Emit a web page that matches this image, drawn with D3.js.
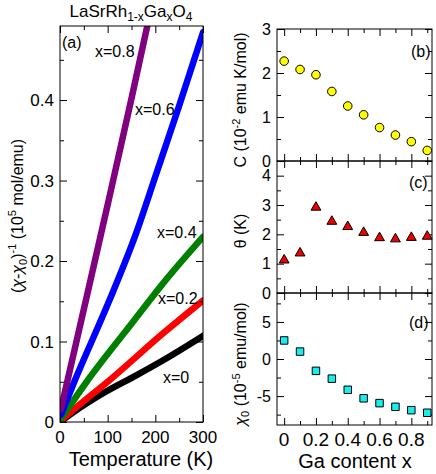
<!DOCTYPE html>
<html>
<head>
<meta charset="utf-8">
<script src="https://cdn.jsdelivr.net/npm/d3@7"></script>
<style>
    html, body { margin: 0; padding: 0; background: #fff; }
    svg { display: block; font-family: "Liberation Sans", Arial, sans-serif; }
</style>
</head>
<body>
<svg id="chart" width="436" height="474"></svg>
<script>
'use strict';

// panel (a): inverse susceptibility vs temperature, [T (K), value]
var curveX0 = [[2, 0.001], [30, 0.013], [94, 0.037], [160, 0.058], [220, 0.078], [300, 0.107]];
var curveX02 = [[2, 0.002], [40, 0.021], [100, 0.050], [220, 0.112], [300, 0.151]];
var curveX04 = [[2, 0.004], [56, 0.050], [150, 0.122], [220, 0.175], [300, 0.230]];
var curveX06 = [[2, 0.009], [30, 0.050], [105, 0.153], [160, 0.235], [200, 0.305], [250, 0.393], [300, 0.484]];
var curveX08 = [[2, 0.016], [50, 0.140], [100, 0.270], [150, 0.402], [186, 0.500]];
var curveNames = ['x=0', 'x=0.2', 'x=0.4', 'x=0.6', 'x=0.8'];
var curveColors = ['#000000', '#ff0000', '#008000', '#0000ff', '#800080'];

// panels (b)-(d): fit parameters vs Ga content
var gaContent = [0, 0.1, 0.2, 0.3, 0.4, 0.5, 0.6, 0.7, 0.8, 0.9];
var curieConst = [2.27, 2.08, 1.96, 1.58, 1.25, 1.05, 0.76, 0.59, 0.44, 0.24];
var weissTheta = [1.12, 1.36, 2.92, 2.44, 2.26, 2.06, 1.88, 1.84, 1.89, 1.93];
var chiZero = [2.5, 1.0, -1.6, -2.65, -4.15, -5.3, -5.95, -6.45, -6.9, -7.25];

var tempTicks = [0, 100, 200, 300];
var tempMinor = [50, 150, 250];
var invChiTicks = [0, 0.1, 0.2, 0.3, 0.4];
var invChiMinor = [0.05, 0.15, 0.25, 0.35, 0.45];
var gaTicks = [0, 0.2, 0.4, 0.6, 0.8];
var gaMinor = [0.1, 0.3, 0.5, 0.7, 0.9];

var svg = d3.select('#chart');

function drawFrame(x, y, opt) {
    var g = svg.append('g');
    var x0 = x.range()[0];
    var x1 = x.range()[1];
    var y0 = y.range()[0];
    var y1 = y.range()[1];

    function tickSet(axisFn, scale, values, size, pos) {
        var a = g.append('g')
            .attr('transform', pos)
            .call(axisFn(scale).tickValues(values).tickSize(size).tickFormat(''));
        a.select('.domain').remove();
        a.selectAll('line').attr('stroke', '#000').attr('stroke-width', 1);
    }

    tickSet(d3.axisBottom, x, opt.xMajor, -7, 'translate(0,' + y0 + ')');
    tickSet(d3.axisBottom, x, opt.xMinor, -4, 'translate(0,' + y0 + ')');
    tickSet(d3.axisTop, x, opt.xMajor, -7, 'translate(0,' + y1 + ')');
    tickSet(d3.axisTop, x, opt.xMinor, -4, 'translate(0,' + y1 + ')');
    tickSet(d3.axisLeft, y, opt.yMajor, -7, 'translate(' + x0 + ',0)');
    tickSet(d3.axisLeft, y, opt.yMinor, -4, 'translate(' + x0 + ',0)');
    tickSet(d3.axisRight, y, opt.yMajor, -7, 'translate(' + x1 + ',0)');
    tickSet(d3.axisRight, y, opt.yMinor, -4, 'translate(' + x1 + ',0)');

    g.append('rect')
        .attr('x', x0)
        .attr('y', y1)
        .attr('width', x1 - x0)
        .attr('height', y0 - y1)
        .attr('fill', 'none')
        .attr('stroke', '#000')
        .attr('stroke-width', 1);

    g.selectAll('.ylab')
        .data(opt.yMajor)
        .enter()
        .append('text')
        .attr('x', x0 - 6)
        .attr('y', function (d) {
            return y(d) + opt.yFont * 0.36;
        })
        .attr('text-anchor', 'end')
        .attr('font-size', opt.yFont)
        .text(opt.yFormat);

    if (opt.xLabels) {
        g.selectAll('.xlab')
            .data(opt.xMajor)
            .enter()
            .append('text')
            .attr('x', function (d) {
                return x(d);
            })
            .attr('y', y0 + opt.xLabelDy)
            .attr('text-anchor', 'middle')
            .attr('font-size', opt.xFont)
            .text(opt.xFormat);
    }

    g.append('text')
        .attr('x', opt.tagX)
        .attr('y', opt.tagY)
        .attr('font-size', 16)
        .text(opt.tag);

    return g;
}

// ---------- panel (a)
var xT = d3.scaleLinear().domain([0, 300]).range([60, 203]);
var yA = d3.scaleLinear().domain([0, 0.492]).range([422, 26]);

svg.append('clipPath')
    .attr('id', 'clipA')
    .append('rect')
    .attr('x', 60)
    .attr('y', 26)
    .attr('width', 143)
    .attr('height', 396);

var line = d3.line()
    .x(function (d) {
        return xT(d[0]);
    })
    .y(function (d) {
        return yA(d[1]);
    })
    .curve(d3.curveMonotoneX);

svg.append('g')
    .attr('clip-path', 'url(#clipA)')
    .selectAll('path')
    .data([curveX0, curveX02, curveX04, curveX06, curveX08])
    .enter()
    .append('path')
    .attr('d', line)
    .attr('fill', 'none')
    .attr('stroke', function (d, i) {
        return curveColors[i];
    })
    .attr('stroke-width', 6.5)
    .attr('stroke-linecap', 'round');

drawFrame(xT, yA, {
    xMajor: tempTicks,
    xMinor: tempMinor,
    yMajor: invChiTicks,
    yMinor: invChiMinor,
    yFont: 17,
    xFont: 17,
    yFormat: function (d) {
        return d === 0 ? '0' : d3.format('.1f')(d);
    },
    xFormat: function (d) {
        return d;
    },
    xLabels: true,
    xLabelDy: 21,
    tag: '(a)',
    tagX: 62,
    tagY: 48
});

var curveLabelPos = [[163, 383], [158, 304], [157, 238], [135, 115], [95, 57]];
svg.selectAll('.curveLabel')
    .data(curveNames)
    .enter()
    .append('text')
    .attr('x', function (d, i) {
        return curveLabelPos[i][0];
    })
    .attr('y', function (d, i) {
        return curveLabelPos[i][1];
    })
    .attr('font-size', 16)
    .text(function (d) {
        return d;
    });

var title = svg.append('text')
    .attr('x', 131)
    .attr('y', 17)
    .attr('text-anchor', 'middle')
    .attr('font-size', 17);
title.append('tspan').text('LaSrRh');
title.append('tspan').attr('font-size', 12).attr('dy', 4).text('1-x');
title.append('tspan').attr('dy', -4).text('Ga');
title.append('tspan').attr('font-size', 12).attr('dy', 4).text('x');
title.append('tspan').attr('dy', -4).text('O');
title.append('tspan').attr('font-size', 12).attr('dy', 4).text('4');

svg.append('text')
    .attr('x', 141)
    .attr('y', 466)
    .attr('text-anchor', 'middle')
    .attr('font-size', 20)
    .text('Temperature (K)');

var yLabA = svg.append('text')
    .attr('transform', 'translate(23,216) rotate(-90)')
    .attr('text-anchor', 'middle')
    .attr('font-size', 16);
yLabA.append('tspan').text('(');
yLabA.append('tspan').attr('font-style', 'italic').text('\u03c7');
yLabA.append('tspan').text('-');
yLabA.append('tspan').attr('font-style', 'italic').text('\u03c7');
yLabA.append('tspan').attr('font-size', 11).attr('dy', 4).text('0');
yLabA.append('tspan').attr('dy', -4).text(')');
yLabA.append('tspan').attr('font-size', 11).attr('dy', -7).text('-1');
yLabA.append('tspan').attr('dy', 7).text(' (10');
yLabA.append('tspan').attr('font-size', 11).attr('dy', -7).text('5');
yLabA.append('tspan').attr('dy', 7).text(' mol/emu)');

// ---------- panels (b), (c), (d)
var xGa = d3.scaleLinear().domain([-0.045, 0.93]).range([277, 432]);
var yB = d3.scaleLinear().domain([0, 3]).range([161, 29]);
var yC = d3.scaleLinear().domain([0, 4.5]).range([293, 161]);
var yD = d3.scaleLinear().domain([-8.9, 8.9]).range([425, 293]);

drawFrame(xGa, yB, {
    xMajor: gaTicks,
    xMinor: gaMinor,
    yMajor: [0, 1, 2, 3],
    yMinor: [0.5, 1.5, 2.5],
    yFont: 16,
    yFormat: function (d) {
        return d;
    },
    xLabels: false,
    tag: '(b)',
    tagX: 411,
    tagY: 57
});

drawFrame(xGa, yC, {
    xMajor: gaTicks,
    xMinor: gaMinor,
    yMajor: [0, 1, 2, 3, 4],
    yMinor: [0.5, 1.5, 2.5, 3.5],
    yFont: 16,
    yFormat: function (d) {
        return d;
    },
    xLabels: false,
    tag: '(c)',
    tagX: 409,
    tagY: 188
});

drawFrame(xGa, yD, {
    xMajor: gaTicks,
    xMinor: gaMinor,
    yMajor: [-5, 0, 5],
    yMinor: [-7.5, -2.5, 2.5, 7.5],
    yFont: 16,
    xFont: 19,
    yFormat: function (d) {
        return d;
    },
    xFormat: function (d) {
        return d === 0 ? '0' : d3.format('.1f')(d);
    },
    xLabels: true,
    xLabelDy: 21,
    tag: '(d)',
    tagX: 409,
    tagY: 328
});

svg.append('g')
    .selectAll('circle')
    .data(gaContent)
    .enter()
    .append('circle')
    .attr('cx', function (d) {
        return xGa(d);
    })
    .attr('cy', function (d, i) {
        return yB(curieConst[i]);
    })
    .attr('r', 4.3)
    .attr('fill', '#ffff00')
    .attr('stroke', '#000')
    .attr('stroke-width', 1);

svg.append('g')
    .selectAll('path')
    .data(gaContent)
    .enter()
    .append('path')
    .attr('d', d3.symbol(d3.symbolTriangle, 42))
    .attr('transform', function (d, i) {
        return 'translate(' + xGa(d) + ',' + yC(weissTheta[i]) + ')';
    })
    .attr('fill', '#ee0000')
    .attr('stroke', '#000')
    .attr('stroke-width', 1);

svg.append('g')
    .selectAll('path')
    .data(gaContent)
    .enter()
    .append('path')
    .attr('d', d3.symbol(d3.symbolSquare, 56))
    .attr('transform', function (d, i) {
        return 'translate(' + xGa(d) + ',' + yD(chiZero[i]) + ')';
    })
    .attr('fill', '#18eeee')
    .attr('stroke', '#000')
    .attr('stroke-width', 1);

svg.append('text')
    .attr('x', 355)
    .attr('y', 468)
    .attr('text-anchor', 'middle')
    .attr('font-size', 20)
    .text('Ga content x');

var yLabB = svg.append('text')
    .attr('transform', 'translate(246,100) rotate(-90)')
    .attr('text-anchor', 'middle')
    .attr('font-size', 16);
yLabB.append('tspan').text('C (10');
yLabB.append('tspan').attr('font-size', 11).attr('dy', -6).text('-2');
yLabB.append('tspan').attr('dy', 6).text(' emu K/mol)');

svg.append('text')
    .attr('transform', 'translate(246,231) rotate(-90)')
    .attr('text-anchor', 'middle')
    .attr('font-size', 16)
    .text('\u03b8 (K)');

var yLabD = svg.append('text')
    .attr('transform', 'translate(246,364) rotate(-90)')
    .attr('text-anchor', 'middle')
    .attr('font-size', 16);
yLabD.append('tspan').attr('font-style', 'italic').text('\u03c7');
yLabD.append('tspan').attr('font-size', 11).attr('dy', 3).text('0');
yLabD.append('tspan').attr('dy', -3).text(' (10');
yLabD.append('tspan').attr('font-size', 11).attr('dy', -6).text('-5');
yLabD.append('tspan').attr('dy', 6).text(' emu/mol)');
</script>
</body>
</html>
